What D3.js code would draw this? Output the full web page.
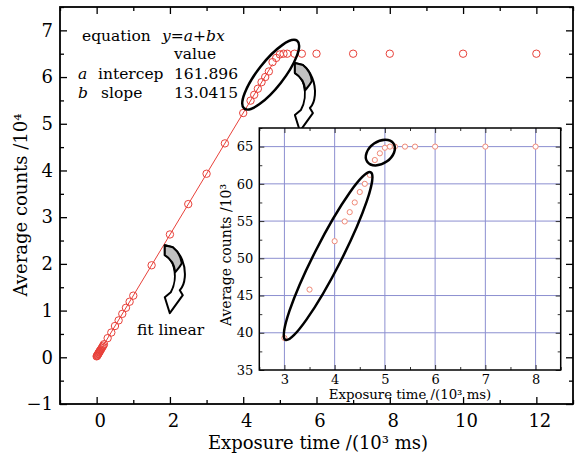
<!DOCTYPE html>
<html>
<head>
<meta charset="utf-8">
<script src="https://cdn.jsdelivr.net/npm/d3@7"></script>
<style>
  body { margin: 0; background: #fff; }
  text { font-family: "DejaVu Serif", serif; }
</style>
</head>
<body>
<svg id="chart" width="583" height="461"></svg>
<script>
// exposure time (10^3 ms) and average counts (10^4)
const expTime = [0, 0.01, 0.02, 0.03, 0.04, 0.05, 0.06, 0.07, 0.08, 0.09, 0.1,
  0.12, 0.14, 0.16, 0.18, 0.2, 0.3, 0.4, 0.5, 0.6, 0.7, 0.8, 0.9, 1.0, 1.5, 2, 2.5,
  3, 3.5, 4, 4.2, 4.3, 4.4, 4.5, 4.6, 4.7, 4.8, 4.9, 5.0, 5.1, 5.2, 5.4, 5.6, 6, 7, 8, 10, 12]
const avgCounts = [0.02, 0.03, 0.04, 0.055, 0.07, 0.08, 0.095, 0.11, 0.12, 0.135, 0.15,
  0.17, 0.2, 0.225, 0.25, 0.28, 0.41, 0.53, 0.67, 0.79, 0.93, 1.06, 1.19, 1.32, 1.97, 2.63, 3.28,
  3.93, 4.58, 5.23, 5.495, 5.62, 5.75, 5.89, 6.0, 6.12, 6.32, 6.41, 6.485, 6.5, 6.5, 6.5, 6.5, 6.5, 6.5, 6.5, 6.5, 6.5]

// fit parameters (counts vs ms)
const fitA = 161.896
const fitB = 13.0415

const xTicksMain = [0, 2, 4, 6, 8, 10, 12]
const xMinorMain = [-1, 1, 3, 5, 7, 9, 11, 13]
const yTicksMain = [-1, 0, 1, 2, 3, 4, 5, 6, 7]
const yMinorMain = [-0.5, 0.5, 1.5, 2.5, 3.5, 4.5, 5.5, 6.5, 7.5]

const xTicksInset = [3, 4, 5, 6, 7, 8]
const xMinorInset = [2.5, 3.5, 4.5, 5.5, 6.5, 7.5, 8.5]
const yTicksInset = [35, 40, 45, 50, 55, 60, 65]
const yMinorInset = [37.5, 42.5, 47.5, 52.5, 57.5, 62.5, 67.5]

const data = expTime.map((t, i) => ({ t: t, c: avgCounts[i] }))

const svg = d3.select('#chart')
const red = '#e8413a'
const pink = '#f08a78'
const gridColor = '#8c8fd0'

// main frame
const mLeft = 60, mRight = 573, mTop = 7, mBottom = 404

const xScale = d3.scaleLinear().domain([-1, 13]).range([mLeft, mRight])
const yScale = d3.scaleLinear().domain([-1, 7.5]).range([mBottom, mTop])

function styleAxis(g, fs) {
  g.select('path.domain').remove()
  g.selectAll('.tick line').attr('stroke', '#000').attr('stroke-width', 1.3)
  g.selectAll('.tick text').attr('font-family', 'DejaVu Serif').attr('font-size', fs).attr('fill', '#000')
}

// bottom
svg.append('g').attr('transform', `translate(0,${mBottom})`)
  .call(d3.axisBottom(xScale).tickValues(xTicksMain).tickSizeInner(-7).tickSizeOuter(0).tickPadding(10)
    .tickFormat(d => d))
  .call(g => styleAxis(g, 18))
  .call(g => g.selectAll('.tick text').attr('dx', 3))
svg.append('g').attr('transform', `translate(0,${mBottom})`)
  .call(d3.axisBottom(xScale).tickValues(xMinorMain).tickSizeInner(-4).tickSizeOuter(0).tickFormat(''))
  .call(g => styleAxis(g, 18))
// top
svg.append('g').attr('transform', `translate(0,${mTop})`)
  .call(d3.axisTop(xScale).tickValues(xTicksMain).tickSizeInner(-7).tickSizeOuter(0).tickFormat(''))
  .call(g => styleAxis(g, 18))
svg.append('g').attr('transform', `translate(0,${mTop})`)
  .call(d3.axisTop(xScale).tickValues(xMinorMain).tickSizeInner(-4).tickSizeOuter(0).tickFormat(''))
  .call(g => styleAxis(g, 18))
// left
svg.append('g').attr('transform', `translate(${mLeft},0)`)
  .call(d3.axisLeft(yScale).tickValues(yTicksMain).tickSizeInner(-7).tickSizeOuter(0).tickPadding(7)
    .tickFormat(d => d < 0 ? '−' + Math.abs(d) : d))
  .call(g => styleAxis(g, 18))
svg.append('g').attr('transform', `translate(${mLeft},0)`)
  .call(d3.axisLeft(yScale).tickValues(yMinorMain).tickSizeInner(-4).tickSizeOuter(0).tickFormat(''))
  .call(g => styleAxis(g, 18))
// right
svg.append('g').attr('transform', `translate(${mRight},0)`)
  .call(d3.axisRight(yScale).tickValues(yTicksMain).tickSizeInner(-7).tickSizeOuter(0).tickFormat(''))
  .call(g => styleAxis(g, 18))
svg.append('g').attr('transform', `translate(${mRight},0)`)
  .call(d3.axisRight(yScale).tickValues(yMinorMain).tickSizeInner(-4).tickSizeOuter(0).tickFormat(''))
  .call(g => styleAxis(g, 18))

svg.append('rect')
  .attr('x', mLeft).attr('y', mTop)
  .attr('width', mRight - mLeft).attr('height', mBottom - mTop)
  .attr('fill', 'none').attr('stroke', '#000').attr('stroke-width', 1.8)

// fit line y = a + b x  (x in 10^3 ms -> counts / 10^4)
const fitLine = d3.line()
  .x(d => xScale(d))
  .y(d => yScale((fitA + fitB * d * 1000) / 10000))
svg.append('path')
  .attr('d', fitLine([0, 4.8]))
  .attr('fill', 'none').attr('stroke', red).attr('stroke-width', 1)

svg.selectAll('circle.main')
  .data(data)
  .enter()
  .append('circle')
    .attr('class', 'main')
    .attr('cx', d => xScale(d.t))
    .attr('cy', d => yScale(d.c))
    .attr('r', 3.7)
    .attr('fill', 'none')
    .attr('stroke', red)
    .attr('stroke-width', 1)

// axis titles
svg.append('text')
  .attr('x', 318).attr('y', 449)
  .attr('text-anchor', 'middle').attr('font-size', 18)
  .text('Exposure time /(10³ ms)')
svg.append('text')
  .attr('transform', 'translate(27,205) rotate(-90)')
  .attr('text-anchor', 'middle').attr('font-size', 18)
  .text('Average counts /10⁴')

// fit table
const table = svg.append('g').attr('font-size', 15.5)
table.append('text').attr('x', 82).attr('y', 41).text('equation')
table.append('text').attr('x', 162).attr('y', 41).attr('font-style', 'italic').text('y=a+bx')
table.append('text').attr('x', 174).attr('y', 59).text('value')
table.append('text').attr('x', 78).attr('y', 79).attr('font-style', 'italic').text('a')
table.append('text').attr('x', 98).attr('y', 79).text('intercep')
table.append('text').attr('x', 174).attr('y', 79).text(fitA.toFixed(3))
table.append('text').attr('x', 78).attr('y', 98).attr('font-style', 'italic').text('b')
table.append('text').attr('x', 101).attr('y', 98).text('slope')
table.append('text').attr('x', 174).attr('y', 98).text(fitB.toFixed(4))

svg.append('text')
  .attr('x', xScale(1.1)).attr('y', yScale(0.477))
  .attr('font-size', 15.5)
  .text('fit linear')

// curved arrows
const arrowBand = 'M0,0 L8,2 C16,8 21,20 20,32 C19.5,38 18,42 15,45 L18,50 L5,68 L0,52 L6,47 C10,40 11,30 9,22 C7,15 4,12 0,10 Z'
const arrowFace = 'M0,0 L8,2 C13,6 16,11 17,18 C15,22 12,25 10.5,27 C9.5,19 5,13 0,10 Z'
function drawArrow(x, y) {
  const g = svg.append('g').attr('transform', `translate(${x},${y})`)
  g.append('path').attr('d', arrowBand).attr('fill', '#fff').attr('stroke', '#000').attr('stroke-width', 2).attr('stroke-linejoin', 'round')
  g.append('path').attr('d', arrowFace).attr('fill', '#c0c0c0').attr('stroke', '#000').attr('stroke-width', 2).attr('stroke-linejoin', 'round')
}
drawArrow(xScale(1.86), yScale(2.40))

// ellipse on main chart
svg.append('ellipse')
  .attr('transform', `translate(${xScale(4.75)},${yScale(6.05)}) rotate(-52)`)
  .attr('rx', 43).attr('ry', 13)
  .attr('fill', 'none').attr('stroke', '#000').attr('stroke-width', 2.5)

drawArrow(xScale(5.41), yScale(6.30))

// inset
const iLeft = 259.3, iRight = 560.7, iTop = 128, iBottom = 370
const xInset = d3.scaleLinear().domain([2.5, 8.5]).range([iLeft, iRight])
const yInset = d3.scaleLinear().domain([35, 67.5]).range([iBottom, iTop])

svg.append('rect')
  .attr('x', iLeft).attr('y', iTop)
  .attr('width', iRight - iLeft).attr('height', iBottom - iTop)
  .attr('fill', '#fff')

// grid
svg.append('g')
  .selectAll('line.vgrid')
  .data(xTicksInset)
  .enter()
  .append('line')
    .attr('x1', d => xInset(d)).attr('x2', d => xInset(d))
    .attr('y1', iTop).attr('y2', iBottom)
    .attr('stroke', gridColor).attr('stroke-width', 1)
svg.append('g')
  .selectAll('line.hgrid')
  .data(yTicksInset.filter(d => d > 35))
  .enter()
  .append('line')
    .attr('x1', iLeft).attr('x2', iRight)
    .attr('y1', d => yInset(d)).attr('y2', d => yInset(d))
    .attr('stroke', gridColor).attr('stroke-width', 1)

function styleInset(g) {
  g.select('path.domain').remove()
  g.selectAll('.tick line').attr('stroke', '#333').attr('stroke-width', 1)
  g.selectAll('.tick text').attr('font-family', 'DejaVu Serif').attr('font-size', 13).attr('fill', '#000')
}

svg.append('g').attr('transform', `translate(0,${iBottom})`)
  .call(d3.axisBottom(xInset).tickValues(xTicksInset).tickSizeInner(-5).tickSizeOuter(0).tickPadding(5).tickFormat(d => d))
  .call(styleInset)
svg.append('g').attr('transform', `translate(0,${iBottom})`)
  .call(d3.axisBottom(xInset).tickValues(xMinorInset).tickSizeInner(-3).tickSizeOuter(0).tickFormat(''))
  .call(styleInset)
svg.append('g').attr('transform', `translate(0,${iTop})`)
  .call(d3.axisTop(xInset).tickValues(xTicksInset).tickSizeInner(-5).tickSizeOuter(0).tickFormat(''))
  .call(styleInset)
svg.append('g').attr('transform', `translate(0,${iTop})`)
  .call(d3.axisTop(xInset).tickValues(xMinorInset).tickSizeInner(-3).tickSizeOuter(0).tickFormat(''))
  .call(styleInset)
svg.append('g').attr('transform', `translate(${iLeft},0)`)
  .call(d3.axisLeft(yInset).tickValues(yTicksInset).tickSizeInner(-5).tickSizeOuter(0).tickPadding(6).tickFormat(d => d))
  .call(styleInset)
svg.append('g').attr('transform', `translate(${iLeft},0)`)
  .call(d3.axisLeft(yInset).tickValues(yMinorInset).tickSizeInner(-3).tickSizeOuter(0).tickFormat(''))
  .call(styleInset)
svg.append('g').attr('transform', `translate(${iRight},0)`)
  .call(d3.axisRight(yInset).tickValues(yTicksInset).tickSizeInner(-5).tickSizeOuter(0).tickFormat(''))
  .call(styleInset)
svg.append('g').attr('transform', `translate(${iRight},0)`)
  .call(d3.axisRight(yInset).tickValues(yMinorInset).tickSizeInner(-3).tickSizeOuter(0).tickFormat(''))
  .call(styleInset)

svg.append('rect')
  .attr('x', iLeft).attr('y', iTop)
  .attr('width', iRight - iLeft).attr('height', iBottom - iTop)
  .attr('fill', 'none').attr('stroke', '#000').attr('stroke-width', 1.5)

// inset points: same data in 10^3 counts
svg.selectAll('circle.inset')
  .data(data.filter(d => d.t >= 3 && d.t <= 8))
  .enter()
  .append('circle')
    .attr('class', 'inset')
    .attr('cx', d => xInset(d.t))
    .attr('cy', d => yInset(d.c * 10))
    .attr('r', 2.6)
    .attr('fill', '#fff')
    .attr('stroke', pink)
    .attr('stroke-width', 1)

svg.append('ellipse')
  .attr('transform', `translate(${xInset(3.87)},${yInset(50.3)}) rotate(-63)`)
  .attr('rx', 94).attr('ry', 13.5)
  .attr('fill', 'none').attr('stroke', '#000').attr('stroke-width', 2.5)
svg.append('ellipse')
  .attr('transform', `translate(${xInset(4.91)},${yInset(64.2)}) rotate(-35)`)
  .attr('rx', 16).attr('ry', 11)
  .attr('fill', 'none').attr('stroke', '#000').attr('stroke-width', 2.5)

svg.append('text')
  .attr('x', 410).attr('y', 399)
  .attr('text-anchor', 'middle').attr('font-size', 13.3)
  .text('Exposure time /(10³ ms)')
svg.append('text')
  .attr('transform', 'translate(231,255) rotate(-90)')
  .attr('text-anchor', 'middle').attr('font-size', 14)
  .text('Average counts /10³')
</script>
</body>
</html>
